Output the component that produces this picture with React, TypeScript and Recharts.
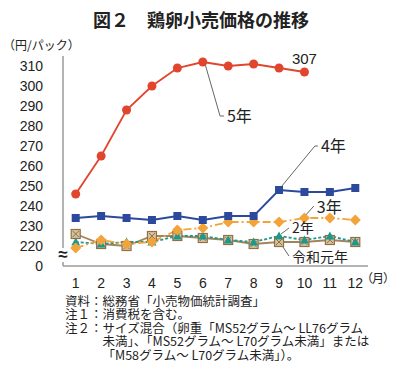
import React from 'react';
import { LineChart, Line, XAxis, YAxis, ReferenceLine, ReferenceDot } from 'recharts';

// ---- data ----
const months = [1, 2, 3, 4, 5, 6, 7, 8, 9, 10, 11, 12];
const reiwa1 = [226, 221, 220, 225, 225, 224, 223, 221, 222, 222, 223, 222];
const reiwa2 = [222, 221, 222, 222, 225, 225, 223, 222, 225, 223, 225, 222];
const reiwa3 = [219, 223, 221, 222, 228, 229, 232, 232, 232, 234, 234, 233];
const reiwa4 = [234, 235, 234, 233, 235, 233, 235, 235, 248, 247, 247, 249];
const reiwa5 = [246, 265, 288, 300, 309, 312, 310, 311, 309, 307];
const yTickLabels = [0, 220, 230, 240, 250, 260, 270, 280, 290, 300, 310];

const BASE = 210; // broken axis offset (0 .. 220 compressed)
const toT = (v: number | undefined) => (v === undefined ? null : v - BASE);

const data = months.map((m, i) => ({
  month: m,
  r1: toT(reiwa1[i]),
  r2: toT(reiwa2[i]),
  r3: toT(reiwa3[i]),
  r4: toT(reiwa4[i]),
  r5: toT(reiwa5[i]),
}));

const yTicks = yTickLabels.map((v) => (v === 0 ? 0 : v - BASE));

const NUM_FONT = "'Liberation Sans', Arial, 'Noto Sans CJK JP', sans-serif";
const JP_FONT = "'Noto Sans CJK JP', 'Liberation Sans', sans-serif";

const C_RED = '#e2452d';
const C_BLUE = '#2c4a9c';
const C_ORANGE = '#f2a43a';
const C_TEAL = '#1f978b';
const C_BROWN = '#a3845a';
const LEADER = '#666';

const empty = (k: any) => <g key={k} />;

const redDot = (p: any) =>
  p.cy == null ? empty(p.index) : <circle key={p.index} cx={p.cx} cy={p.cy} r={4.5} fill={C_RED} />;
const blueDot = (p: any) =>
  p.cy == null ? empty(p.index) : (
    <rect key={p.index} x={p.cx - 4} y={p.cy - 4} width={8} height={8} fill={C_BLUE} />
  );
const orangeDot = (p: any) =>
  p.cy == null ? empty(p.index) : (
    <path
      key={p.index}
      d={`M${p.cx},${p.cy - 4.5} L${p.cx + 4.5},${p.cy} L${p.cx},${p.cy + 4.5} L${p.cx - 4.5},${p.cy} Z`}
      fill={C_ORANGE}
      stroke={C_ORANGE}
      strokeLinejoin="round"
      strokeWidth={1.5}
    />
  );
const tealDot = (p: any) =>
  p.cy == null ? empty(p.index) : (
    <path
      key={p.index}
      d={`M${p.cx},${p.cy - 4.5} L${p.cx + 4.5},${p.cy + 3.5} L${p.cx - 4.5},${p.cy + 3.5} Z`}
      fill={C_TEAL}
    />
  );
const brownDot = (p: any) =>
  p.cy == null ? empty(p.index) : (
    <g key={p.index}>
      <rect x={p.cx - 4.5} y={p.cy - 4.5} width={9} height={9} fill="#d8c29c" stroke="#8f7046" strokeWidth={1.2} />
      <path
        d={`M${p.cx - 3},${p.cy - 3} L${p.cx + 3},${p.cy + 3} M${p.cx + 3},${p.cy - 3} L${p.cx - 3},${p.cy + 3}`}
        stroke="#8f7046"
        strokeWidth={1}
      />
    </g>
  );

const labelStyle = (value: string, size: number) => ({
  value,
  position: 'right' as const,
  offset: 3,
  fill: '#222',
  fontSize: size,
  fontFamily: JP_FONT,
});

export default function App() {
  return (
    <div style={{ position: 'absolute', left: 0, top: 0, width: 402, height: 388, background: '#fff' }}>
      <div
        style={{
          position: 'absolute',
          left: 0,
          top: 7,
          width: 402,
          textAlign: 'center',
          fontFamily: JP_FONT,
          fontWeight: 700,
          fontSize: 18,
          lineHeight: '24px',
          color: '#222',
        }}
      >
        図２　鶏卵小売価格の推移
      </div>
      <div
        style={{
          position: 'absolute',
          left: 3,
          top: 37,
          fontFamily: JP_FONT,
          fontSize: 12,
          lineHeight: '16px',
          color: '#222',
        }}
      >
        （円/パック）
      </div>
      <LineChart
        width={402}
        height={388}
        data={data}
        margin={{ top: 56, right: 34, left: 13, bottom: 92 }}
      >
        <XAxis
          dataKey="month"
          type="number"
          domain={[0.5, 12.5]}
          ticks={months}
          allowDataOverflow
          tickLine={false}
          axisLine={{ stroke: '#9a9a9a', strokeWidth: 1.5 }}
          tick={{ fill: '#222', fontSize: 14, fontFamily: NUM_FONT }}
          tickMargin={6}
          height={30}
        />
        <YAxis
          type="number"
          domain={[0, 105]}
          ticks={yTicks}
          allowDataOverflow
          interval={0}
          width={50}
          tickLine={false}
          axisLine={{ stroke: '#9a9a9a', strokeWidth: 1.5 }}
          tick={{ fill: '#222', fontSize: 14, fontFamily: NUM_FONT }}
          tickMargin={14}
          tickFormatter={(t: number) => (t === 0 ? '0' : String(t + BASE))}
        />
        <Line
          dataKey="r1"
          stroke={C_BROWN}
          strokeWidth={1.8}
          dot={brownDot}
          isAnimationActive={false}
        />
        <Line
          dataKey="r2"
          stroke={C_TEAL}
          strokeWidth={1.8}
          strokeDasharray="3 2"
          dot={tealDot}
          isAnimationActive={false}
        />
        <Line
          dataKey="r3"
          stroke={C_ORANGE}
          strokeWidth={1.8}
          strokeDasharray="8 3 2 3"
          dot={orangeDot}
          isAnimationActive={false}
        />
        <Line dataKey="r4" stroke={C_BLUE} strokeWidth={1.8} dot={blueDot} isAnimationActive={false} />
        <Line dataKey="r5" stroke={C_RED} strokeWidth={1.8} dot={redDot} isAnimationActive={false} />

        {/* leader lines */}
        <ReferenceLine segment={[{ x: 6.09, y: 101 }, { x: 6.68, y: 75 }]} stroke={LEADER} />
        <ReferenceLine segment={[{ x: 6.68, y: 75 }, { x: 6.83, y: 75 }]} stroke={LEADER} />
        <ReferenceLine segment={[{ x: 9.08, y: 39.5 }, { x: 10.41, y: 60 }]} stroke={LEADER} />
        <ReferenceLine segment={[{ x: 10.41, y: 60 }, { x: 10.53, y: 60 }]} stroke={LEADER} />
        <ReferenceLine segment={[{ x: 10.02, y: 25 }, { x: 10.37, y: 30 }]} stroke={LEADER} />
        <ReferenceLine segment={[{ x: 9.08, y: 16 }, { x: 9.39, y: 19 }]} stroke={LEADER} />
        <ReferenceLine segment={[{ x: 9.08, y: 11 }, { x: 9.39, y: 5 }]} stroke={LEADER} />

        {/* annotation labels */}
        <ReferenceDot x={6.83} y={75} r={0} stroke="none" fill="none" label={labelStyle('5年', 16)} />
        <ReferenceDot x={10.53} y={60} r={0} stroke="none" fill="none" label={labelStyle('4年', 16)} />
        <ReferenceDot x={10.37} y={29.5} r={0} stroke="none" fill="none" label={labelStyle('3年', 16)} />
        <ReferenceDot x={9.39} y={19} r={0} stroke="none" fill="none" label={labelStyle('2年', 14)} />
        <ReferenceDot x={9.39} y={4.5} r={0} stroke="none" fill="none" label={labelStyle('令和元年', 14)} />
        <ReferenceDot
          x={10}
          y={reiwa5[9] - BASE}
          r={0}
          stroke="none"
          fill="none"
          label={{
            value: String(reiwa5[9]),
            position: 'top',
            offset: 8,
            fill: '#222',
            fontSize: 15,
            fontFamily: NUM_FONT,
          }}
        />
      </LineChart>
      {/* axis break mark */}
      <div
        style={{
          position: 'absolute',
          left: 56,
          top: 248,
          width: 14,
          height: 14,
          background: '#fff',
          textAlign: 'center',
          fontFamily: NUM_FONT,
          fontWeight: 700,
          fontSize: 17,
          lineHeight: '14px',
          color: '#222',
        }}
      >
        ≈
      </div>
      <div
        style={{
          position: 'absolute',
          left: 361,
          top: 270,
          fontFamily: JP_FONT,
          fontSize: 12,
          lineHeight: '16px',
          color: '#222',
          letterSpacing: -1,
        }}
      >
        （月）
      </div>
      <div
        style={{
          position: 'absolute',
          left: 65,
          top: 294,
          fontFamily: JP_FONT,
          fontSize: 12.5,
          lineHeight: '13.4px',
          color: '#222',
          whiteSpace: 'nowrap',
        }}
      >
        <div>資料：総務省「小売物価統計調査」</div>
        <div>注１：消費税を含む。</div>
        <div>注２：サイズ混合（卵重「MS52グラム～ LL76グラム</div>
        <div style={{ paddingLeft: '3em' }}>未満」、「MS52グラム～ L70グラム未満」または</div>
        <div style={{ paddingLeft: '3em' }}>「M58グラム～ L70グラム未満」）。</div>
      </div>
    </div>
  );
}
